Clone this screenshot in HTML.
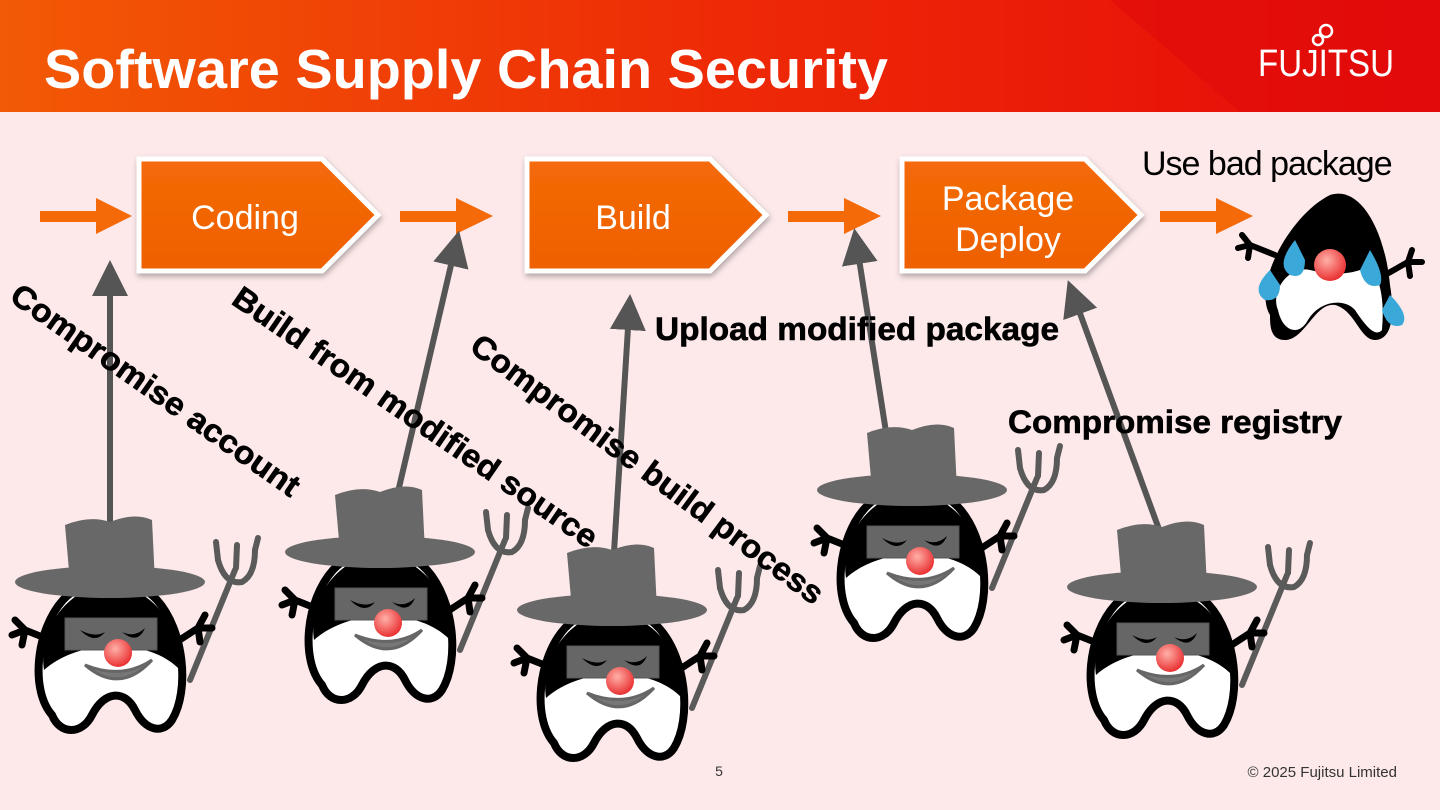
<!DOCTYPE html>
<html><head><meta charset="utf-8"><style>
html,body{margin:0;padding:0;width:1440px;height:810px;overflow:hidden;background:#fde9ea;font-family:"Liberation Sans",Arial,sans-serif}
</style></head><body>
<svg width="1440" height="810" viewBox="0 0 1440 810" xmlns="http://www.w3.org/2000/svg" font-family="Liberation Sans, Arial, sans-serif">
<defs>
<linearGradient id="hd" x1="0" y1="0" x2="1" y2="0">
<stop offset="0" stop-color="#f25a05"/><stop offset="0.5" stop-color="#ee2a06"/><stop offset="1" stop-color="#e60a0a"/></linearGradient>
<linearGradient id="bx" x1="0" y1="0" x2="0" y2="1">
<stop offset="0" stop-color="#f46a08"/><stop offset="1" stop-color="#ee6000"/></linearGradient>
<radialGradient id="ns" cx="0.4" cy="0.35" r="0.7"><stop offset="0" stop-color="#ffb0a8"/><stop offset="1" stop-color="#e8282a"/></radialGradient>
<filter id="sh" x="-10%" y="-10%" width="120%" height="130%"><feDropShadow dx="1" dy="3" stdDeviation="3" flood-color="#000" flood-opacity="0.3"/></filter>
<g id="villain">
<g stroke="#5a5a5a" stroke-width="6" fill="none" stroke-linecap="round">
<line x1="80" y1="160" x2="125" y2="50"/>
<path d="M108 40 Q115 65 132 62 Q145 55 145 30"/>
<line x1="108" y1="40" x2="106" y2="22"/><line x1="126" y1="48" x2="127" y2="25"/><line x1="145" y1="30" x2="148" y2="18"/>
</g>
<g stroke="#000" stroke-width="7" fill="none" stroke-linecap="round">
<path d="M-60 120 L-85 110 M-85 110 L-95 100 M-85 110 L-98 115 M-85 110 L-88 125"/>
<path d="M62 125 L88 108 M88 108 L95 95 M88 108 L102 108 M88 108 L90 122"/>
</g>
<path d="M-58 195 C-80 170,-74 110,-47 80 C-25 55,25 55,47 80 C74 110,80 170,62 200 C52 215,35 210,25 190 C15 170,-5 170,-18 195 C-28 215,-50 215,-58 195 Z" fill="#fff" stroke="#000" stroke-width="8"/>
<path d="M-66 150 C-72 110,-45 70,0 62 C45 70,74 110,70 150 C40 118,-30 118,-66 150 Z" fill="#000"/>
<rect x="-45" y="98" width="92" height="32" fill="#666" stroke="#555"/>
<path d="M-30 110 Q-15 118 -5 112 Q-15 125 -30 110Z M12 112 Q25 118 35 108 Q28 125 12 112Z" fill="#000"/>
<circle cx="8" cy="133" r="14" fill="url(#ns)"/>
<path d="M-25 145 Q10 175 42 140 Q12 160 -25 145Z" fill="#777" stroke="#666" stroke-width="3"/>
<path d="M-40 62 L-45 5 Q-20 -5 0 2 Q25 -8 42 0 L45 62 Z" fill="#686868"/>
<ellipse cx="0" cy="62" rx="95" ry="16" fill="#686868"/>
</g>
<marker id="ah" markerWidth="6" markerHeight="6" refX="3" refY="3" orient="auto" markerUnits="strokeWidth"><path d="M0 0 L6 3 L0 6 Z" fill="#555"/></marker>
</defs>
<rect x="0" y="0" width="1440" height="112" fill="url(#hd)"/>
<path d="M1110 0 L1440 0 L1440 112 L1240 112 Z" fill="#e00a0a" opacity="0.6"/>
<text x="44" y="88" font-size="55" font-weight="bold" fill="#fff" textLength="844" lengthAdjust="spacingAndGlyphs">Software Supply Chain Security</text>
<text x="1258" y="76" font-size="38" fill="#fff" font-family="Liberation Sans Narrow, Liberation Sans, sans-serif" textLength="136" lengthAdjust="spacingAndGlyphs">FUJITSU</text>
<g fill="none" stroke="#fff" stroke-width="2.5"><circle cx="1318" cy="40" r="5"/><circle cx="1326" cy="31" r="6"/></g>

<g fill="#f46a08">
<rect x="40" y="211" width="60" height="11"/><path d="M96 198 L132 216 L96 234 Z"/>
<rect x="400" y="211" width="60" height="11"/><path d="M456 198 L493 216 L456 234 Z"/>
<rect x="788" y="211" width="60" height="11"/><path d="M844 198 L881 216 L844 234 Z"/>
<rect x="1160" y="211" width="60" height="11"/><path d="M1216 198 L1253 216 L1216 234 Z"/>
</g>
<g filter="url(#sh)" stroke="#fff" stroke-width="5" fill="url(#bx)">
<path d="M139 159 L322 159 L378 215 L322 271 L139 271 Z"/>
<path d="M527 159 L710 159 L766 215 L710 271 L527 271 Z"/>
<path d="M902 159 L1085 159 L1141 215 L1085 271 L902 271 Z"/>
</g>
<g fill="#fff" font-size="34" text-anchor="middle">
<text x="245" y="229">Coding</text>
<text x="633" y="229">Build</text>
<text x="1008" y="210">Package</text>
<text x="1008" y="251">Deploy</text>
</g>

<text x="1142" y="175" font-size="34" fill="#000" letter-spacing="-1">Use bad package</text>

<g transform="translate(1330,190)">
<g stroke="#000" stroke-width="6" fill="none" stroke-linecap="round">
<path d="M-55 65 L-80 55 M-80 55 L-88 45 M-80 55 L-92 58 M-80 55 L-82 68"/>
<path d="M55 85 L78 72 M78 72 L82 60 M78 72 L92 72 M78 72 L80 86"/>
</g>
<path d="M-60 125 C-78 95,-40 25,0 5 C30 -5,55 40,60 95 C65 125,62 150,45 150 C30 150,25 120,5 115 C-15 112,-25 150,-45 150 C-60 150,-60 135,-60 125 Z" fill="#000"/>
<path d="M-52 120 C-60 100,-40 75,-20 80 C0 85,20 85,35 78 C50 80,55 110,52 140 C45 148,35 135,25 120 C15 108,-10 110,-22 130 C-32 148,-48 140,-52 120 Z" fill="#fff"/>
<circle cx="0" cy="75" r="16" fill="url(#ns)"/>
<g fill="#3aa8d8">
<path d="M-35 50 Q-55 75 -40 85 Q-25 90 -25 70 Z"/>
<path d="M-60 80 Q-80 100 -65 110 Q-50 112 -50 95 Z"/>
<path d="M40 60 Q55 85 50 95 Q35 100 30 80 Z"/>
<path d="M60 105 Q80 125 72 135 Q58 140 52 120 Z"/>
</g>
</g>

<g stroke="#555" stroke-width="6" marker-end="url(#ah)">
<line x1="110" y1="522" x2="110" y2="278"/>
<line x1="398" y1="492" x2="455" y2="248"/>
<line x1="614" y1="552" x2="629" y2="312"/>
<line x1="886" y1="432" x2="857" y2="246"/>
<line x1="1160" y1="532" x2="1074" y2="297"/>
</g>

<use href="#villain" transform="translate(110,520)"/>
<use href="#villain" transform="translate(380,490)"/>
<use href="#villain" transform="translate(612,548)"/>
<use href="#villain" transform="translate(912,428)"/>
<use href="#villain" transform="translate(1162,525)"/>

<g font-size="32" font-weight="bold" fill="#000" stroke="#000" stroke-width="0.6">
<text transform="translate(8,300) rotate(35)" textLength="345" lengthAdjust="spacingAndGlyphs">Compromise account</text>
<text transform="translate(230,303) rotate(34.5)" textLength="435" lengthAdjust="spacingAndGlyphs">Build from modified source</text>
<text transform="translate(468,350) rotate(36.5)" textLength="430" lengthAdjust="spacingAndGlyphs">Compromise build process</text>
<text x="655" y="340" textLength="404" lengthAdjust="spacingAndGlyphs">Upload modified package</text>
<text x="1008" y="433" textLength="334" lengthAdjust="spacingAndGlyphs">Compromise registry</text>
</g>

<text x="719" y="776" font-size="14" fill="#333" text-anchor="middle">5</text>
<text x="1397" y="777" font-size="15" fill="#333" text-anchor="end">© 2025 Fujitsu Limited</text>
</svg>
</body></html>
